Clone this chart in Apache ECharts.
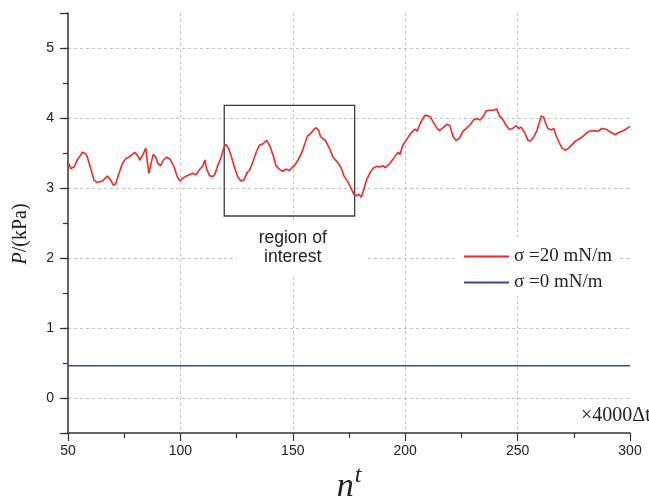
<!DOCTYPE html>
<html><head><meta charset="utf-8">
<script src="https://cdn.jsdelivr.net/npm/echarts@6/dist/echarts.min.js"></script>
<style>html,body{margin:0;padding:0;background:#fff}#c{width:649px;height:501px}</style>
</head><body><div id="c"></div>
<script>
// time steps (x 4000 Δt) for the σ = 20 mN/m run
const timeSteps = [
  50.4, 51.2, 52.7, 54.1, 55.6, 56.4, 57.9, 58.6, 60.1, 61.6,
  63.0, 65.3, 67.5, 68.2, 69.0, 70.2, 71.2, 72.7, 74.2, 75.7,
  77.1, 78.6, 79.7, 80.8, 82.0, 83.5, 84.6, 85.3, 86.0, 87.1,
  87.9, 89.0, 90.0, 91.2, 92.4, 93.9, 95.4, 97.2, 98.6, 99.8,
  101.0, 103.2, 105.5, 106.9, 108.7, 109.9, 110.9, 111.7, 112.9, 114.4,
  115.5, 116.6, 118.1, 119.5, 120.3, 121.5, 122.5, 124.0, 125.5, 127.0,
  128.4, 129.6, 130.7, 132.2, 133.6, 135.1, 136.6, 138.4, 139.9, 141.3,
  142.5, 144.0, 145.5, 147.0, 148.4, 149.6, 150.8, 152.3, 153.8, 155.3,
  156.5, 158.0, 159.4, 160.5, 161.5, 162.4, 164.5, 166.4, 167.9, 169.8,
  171.3, 172.8, 174.6, 176.0, 177.2, 178.2, 179.3, 180.5, 181.7, 182.7,
  184.2, 185.7, 187.1, 188.7, 190.1, 191.1, 193.1, 195.0, 196.8, 197.7,
  198.9, 200.4, 201.8, 203.3, 204.4, 205.4, 206.6, 207.8, 208.8, 210.3,
  211.3, 212.5, 214.0, 215.2, 216.7, 218.5, 219.9, 220.7, 221.4, 222.6,
  224.1, 225.6, 227.4, 228.8, 230.6, 232.1, 233.3, 234.8, 236.0, 237.4,
  238.9, 240.7, 241.9, 243.4, 244.8, 246.3, 247.8, 249.3, 250.5, 251.6,
  253.2, 254.6, 255.6, 257.2, 258.6, 259.7, 260.5, 261.6, 262.3, 263.5,
  265.0, 266.1, 267.1, 268.3, 269.8, 271.2, 272.7, 274.2, 275.7, 277.9,
  279.8, 281.6, 283.8, 285.8, 287.5, 289.3, 291.2, 293.5, 294.7, 296.4,
  298.2, 300
];
// pressure P (kPa), σ = 20 mN/m
const pressureSigma20 = [
  3.35, 3.28, 3.30, 3.40, 3.47, 3.51, 3.49, 3.44, 3.28, 3.11,
  3.08, 3.10, 3.17, 3.19, 3.11, 3.04, 3.06, 3.21, 3.35, 3.42,
  3.44, 3.48, 3.51, 3.47, 3.40, 3.49, 3.57, 3.37, 3.21, 3.37,
  3.48, 3.44, 3.35, 3.32, 3.40, 3.44, 3.41, 3.30, 3.16, 3.10,
  3.14, 3.18, 3.21, 3.19, 3.27, 3.31, 3.40, 3.27, 3.18, 3.16,
  3.21, 3.32, 3.44, 3.59, 3.62, 3.56, 3.47, 3.30, 3.16, 3.10,
  3.12, 3.22, 3.25, 3.37, 3.50, 3.61, 3.63, 3.68, 3.59, 3.46,
  3.32, 3.27, 3.24, 3.27, 3.25, 3.29, 3.32, 3.40, 3.49, 3.63,
  3.74, 3.78, 3.84, 3.86, 3.82, 3.73, 3.68, 3.56, 3.44, 3.37,
  3.30, 3.17, 3.08, 2.99, 2.91, 2.89, 2.91, 2.87, 2.99, 3.11,
  3.21, 3.28, 3.31, 3.30, 3.32, 3.29, 3.35, 3.43, 3.51, 3.48,
  3.61, 3.68, 3.75, 3.81, 3.84, 3.81, 3.92, 3.99, 4.04, 4.03,
  4.01, 3.94, 3.86, 3.82, 3.86, 3.91, 3.89, 3.80, 3.73, 3.68,
  3.71, 3.81, 3.86, 3.90, 3.98, 3.99, 3.97, 4.03, 4.10, 4.11,
  4.11, 4.13, 4.03, 3.98, 3.90, 3.84, 3.85, 3.89, 3.85, 3.87,
  3.79, 3.68, 3.67, 3.73, 3.82, 3.94, 4.03, 4.01, 3.94, 3.85,
  3.83, 3.85, 3.75, 3.66, 3.57, 3.54, 3.57, 3.62, 3.67, 3.71,
  3.76, 3.81, 3.82, 3.81, 3.85, 3.84, 3.80, 3.76, 3.79, 3.81,
  3.84, 3.88
];
// σ = 0 mN/m run (flat)
const timeSigma0 = [50, 300];
const pressureSigma0 = [0.46, 0.46];
// region of interest box (data coords)
const roiX = [119.5, 177.5];
const roiY = [2.6, 4.18];
const seriesNames = ['σ =20 mN/m', 'σ =0 mN/m'];
const roiLabel = 'region of\ninterest';
const xUnitLabel = '×4000Δt';

const chart = echarts.init(document.getElementById('c'), null, { renderer: 'canvas' });
const redData = timeSteps.map((t, i) => [t, pressureSigma20[i]]);
const blueData = timeSigma0.map((t, i) => [t, pressureSigma0[i]]);

const axisColor = '#333';
const labelFont = 'Liberation Sans, Arial, sans-serif';
const serif = 'Liberation Serif, Times New Roman, serif';

const option = {
  animation: false,
  backgroundColor: '#fff',
  grid: { left: 68, right: 19, top: 13, bottom: 68, containLabel: false },
  xAxis: {
    type: 'value', min: 50, max: 300, interval: 50,
    axisLine: { onZero: false, lineStyle: { color: axisColor, width: 1.5 } },
    axisTick: { length: 8, lineStyle: { color: axisColor, width: 1.2 } },
    minorTick: { show: true, splitNumber: 2, length: 5, lineStyle: { color: axisColor, width: 1.2 } },
    axisLabel: { margin: 11, fontSize: 14, color: '#222', fontFamily: labelFont },
    splitLine: { show: true, showMinLine: false, showMaxLine: false, lineStyle: { type: [3, 3], color: '#c4c4c4', width: 1 } }
  },
  yAxis: [{
    type: 'value', min: -0.5, max: 5.5, splitNumber: 6,
    axisLine: { show: true, onZero: false, lineStyle: { color: axisColor, width: 1.5 } },
    axisTick: { length: 8, lineStyle: { color: axisColor, width: 1.2 } },
    axisLabel: { margin: 14, fontSize: 14, color: '#222', fontFamily: labelFont,
      formatter: v => (Math.abs(v - Math.round(v)) < 1e-9 ? String(Math.round(v)) : '') },
    splitLine: { show: true, showMinLine: false, showMaxLine: false, lineStyle: { type: [3, 3], color: '#c4c4c4', width: 1 } }
  }, {
    type: 'value', min: -0.5, max: 5.5, interval: 0.5, position: 'left', offset: 0,
    axisLine: { show: false, onZero: false },
    axisTick: { show: true, length: 5, lineStyle: { color: axisColor, width: 1.2 } },
    axisLabel: { show: false },
    splitLine: { show: false }
  }],
  legend: {
    orient: 'vertical', left: 457, top: 237,
    padding: [10, 8, 4, 6], itemGap: 7, itemWidth: 45, itemHeight: 14,
    backgroundColor: '#fff',
    itemStyle: { opacity: 0 },
    textStyle: { fontFamily: serif, fontSize: 19, color: '#222' },
    data: seriesNames
  },
  series: [{
    name: seriesNames[0], type: 'line', data: redData, symbol: 'none',
    lineStyle: { color: '#ee2a2a', width: 1.6 }, itemStyle: { color: '#ee2a2a', opacity: 0 },
    markArea: {
      silent: true,
      itemStyle: { color: 'rgba(0,0,0,0)', borderColor: '#3a3a3a', borderWidth: 1.3, opacity: 1 },
      data: [[{ coord: [roiX[0], roiY[0]] }, { coord: [roiX[1], roiY[1]] }]]
    }
  }, {
    name: seriesNames[1], type: 'line', data: blueData, symbol: 'none',
    lineStyle: { color: '#2e4d9a', width: 1.6 }, itemStyle: { color: '#2e4d9a', opacity: 0 }
  }],
  graphic: [
    { type: 'rect', left: 237, top: 222, shape: { width: 131, height: 52 }, style: { fill: '#fff' }, z: 10 },
    { type: 'text', x: 292.7, y: 247.5, z: 11,
      style: { text: roiLabel, fontFamily: labelFont, fontSize: 17.5, lineHeight: 19, fill: '#222', align: 'center', verticalAlign: 'middle' } },
    { type: 'text', x: 21, y: 234, rotation: Math.PI / 2, z: 11,
      style: { text: '{i|P}{r|/(kPa)}', align: 'center', verticalAlign: 'middle',
        rich: { i: { fontFamily: serif, fontStyle: 'italic', fontSize: 20, fill: '#222' },
                r: { fontFamily: serif, fontSize: 20, fill: '#222' } } } },
    { type: 'text', x: 349, y: 484, z: 11,
      style: { text: '{n|n}{t|t}', align: 'center', verticalAlign: 'middle',
        rich: { n: { fontFamily: serif, fontStyle: 'italic', fontSize: 34, fill: '#222', verticalAlign: 'bottom' },
                t: { fontFamily: serif, fontStyle: 'italic', fontSize: 24, fill: '#222', verticalAlign: 'bottom', padding: [0, 0, 16, 1] } } } },
    { type: 'text', x: 581, y: 416, z: 11,
      style: { text: xUnitLabel, fontFamily: serif, fontSize: 20, fill: '#222', align: 'left', verticalAlign: 'middle' } }
  ]
};
chart.setOption(option);
</script>
</body></html>
